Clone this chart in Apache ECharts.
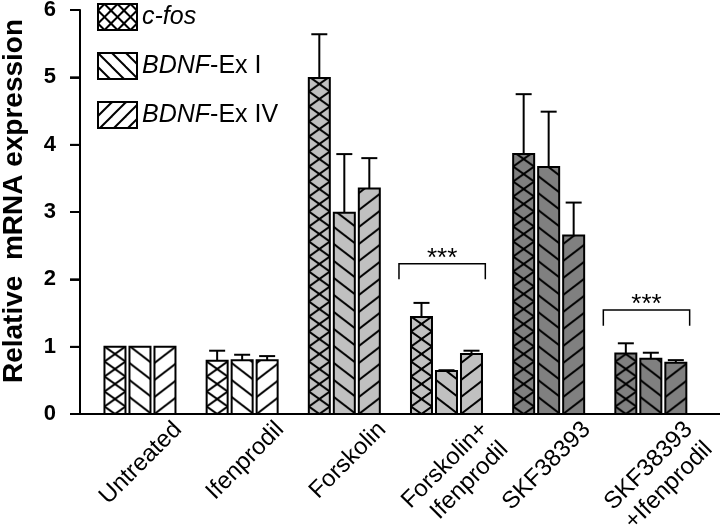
<!DOCTYPE html>
<html><head><meta charset="utf-8">
<script src="https://cdn.jsdelivr.net/npm/echarts@6/dist/echarts.min.js"></script>
<style>html,body{margin:0;padding:0;background:#fff}#c{width:720px;height:526px}</style>
</head><body><div id="c"></div>
<script>
// ---------- data ----------
const categories = ['Untreated', 'Ifenprodil', 'Forskolin', 'Forskolin+\nIfenprodil', 'SKF38393', 'SKF38393\n+Ifenprodil'];
const seriesNames = ['c-fos', 'BDNF-Ex I', 'BDNF-Ex IV'];
const cfos      = [1.00, 0.79, 4.99, 1.44, 3.86, 0.90];
const cfosErr   = [0.00, 0.15, 0.65, 0.21, 0.89, 0.15];
const exI       = [1.00, 0.80, 2.99, 0.64, 3.67, 0.82];
const exIErr    = [0.00, 0.08, 0.87, 0.01, 0.82, 0.09];
const exIV      = [1.00, 0.80, 3.35, 0.89, 2.65, 0.76];
const exIVErr   = [0.00, 0.06, 0.45, 0.05, 0.49, 0.04];
const yTicks    = [0, 1, 2, 3, 4, 5, 6];
// significance brackets: category, bracket top value, bracket end value, stars value
const sigCats   = [3, 5];
const sigTop    = [2.23, 1.545];
const sigEnd    = [2.00, 1.31];
const sigStars  = [2.30, 1.62];
const sigText   = ['***', '***'];

// ---------- styles / layout ----------
const FONT = "'Liberation Sans', Arial, Helvetica, sans-serif";
const catFill = ['#ffffff', '#ffffff', '#c0c0c0', '#c0c0c0', '#808080', '#808080'];
const kinds = ['cross', 'back', 'fwd'];
const BAR_W = 21, BAR_PITCH = 25, CAP = 16, TICK_LEN = 10;
const X_MIN = -0.587, X_MAX = 5.677; // horizontal extent of plot in category-index units
const PLOT_LEFT = 80, PLOT_TOP = 10, PLOT_H = 404;

function makePattern(kind, bg, W, H, lw) {
  const c = document.createElement('canvas');
  c.width = W; c.height = H;
  const g = c.getContext('2d');
  g.fillStyle = bg; g.fillRect(0, 0, W, H);
  g.strokeStyle = '#000'; g.lineWidth = lw;
  const line = (x1, y1, x2, y2) => { g.beginPath(); g.moveTo(x1, y1); g.lineTo(x2, y2); g.stroke(); };
  const b0 = kind === 'cross' ? H / 2 : 0;
  for (let k = -3; k <= 3; k++) {
    const b = b0 + k * H;
    if (kind === 'cross' || kind === 'back') line(-W, b - H, 2 * W, b + 2 * H);
    if (kind === 'cross' || kind === 'fwd') line(-W, b + H, 2 * W, b - 2 * H);
  }
  return c;
}
const tile = { cross: [21, 15], back: [22, 17], fwd: [22, 17] };
const barPatterns = {};
kinds.forEach(k => {
  barPatterns[k] = catFill.map(col => makePattern(k, col, tile[k][0], tile[k][1], 2));
});
const legendPatterns = {
  cross: makePattern('cross', '#fff', 13, 13, 2),
  back: makePattern('back', '#fff', 14, 14, 2),
  fwd: makePattern('fwd', '#fff', 14, 14, 2)
};

function barRender(si) {
  const kind = kinds[si];
  return function (params, api) {
    const i = api.value(0), v = api.value(1), e = api.value(2);
    const base = api.coord([i, 0]);
    const top = api.coord([i, v]);
    const cx = base[0] + (si - 1) * BAR_PITCH;
    const x0 = cx - BAR_W / 2;
    const children = [];
    if (e > 0) {
      const et = api.coord([i, v + e]);
      children.push({ type: 'line', shape: { x1: cx, y1: top[1], x2: cx, y2: et[1] }, style: { stroke: '#000', lineWidth: 2 } });
      children.push({ type: 'line', shape: { x1: cx - CAP / 2, y1: et[1], x2: cx + CAP / 2, y2: et[1] }, style: { stroke: '#000', lineWidth: 2 } });
    }
    children.push({
      type: 'rect',
      shape: { x: x0, y: top[1], width: BAR_W, height: base[1] - top[1] },
      style: { fill: { image: barPatterns[kind][i], repeat: 'repeat', x: x0, y: base[1] }, stroke: '#000', lineWidth: 2 }
    });
    return { type: 'group', children: children };
  };
}

const values = [cfos, exI, exIV];
const errs = [cfosErr, exIErr, exIVErr];
const series = seriesNames.map((name, si) => ({
  name: name,
  type: 'custom',
  xAxisIndex: 0, yAxisIndex: 0,
  renderItem: barRender(si),
  itemStyle: { color: { image: legendPatterns[kinds[si]], repeat: 'repeat' }, borderColor: '#000', borderWidth: 2 },
  encode: { x: 0, y: 1 },
  data: categories.map((c, i) => [i, values[si][i], errs[si][i]]),
  z: 2
}));

// significance brackets
series.push({
  type: 'custom',
  name: 'sig',
  xAxisIndex: 0, yAxisIndex: 0,
  encode: { x: 0, y: 1 },
  data: sigCats.map((c, j) => [c, sigTop[j], sigEnd[j], sigStars[j]]),
  renderItem: function (params, api) {
    const c = api.value(0);
    const p = api.coord([c, api.value(1)]);
    const pe = api.coord([c, api.value(2)]);
    const ps = api.coord([c, api.value(3)]);
    const bw = api.size([1, 0])[0];
    const xl = p[0] - 0.465 * bw, xr = p[0] + 0.38 * bw;
    return {
      type: 'group',
      children: [
        { type: 'polyline', shape: { points: [[xl, pe[1]], [xl, p[1]], [xr, p[1]], [xr, pe[1]]] }, style: { stroke: '#000', lineWidth: 1.5, fill: null } },
        { type: 'text', x: (xl + xr) / 2, y: ps[1], style: { text: sigText[params.dataIndex], fontSize: 26, fontFamily: FONT, fill: '#000', align: 'center', verticalAlign: 'middle', textAlign: 'center', textVerticalAlign: 'middle' } }
      ]
    };
  },
  z: 3
});

// value-axis line + ticks drawn through the axis scale (backup for the native axis line)
series.push({
  type: 'custom',
  name: 'yaxis',
  xAxisIndex: 0, yAxisIndex: 0,
  clip: false,
  silent: true,
  encode: { x: 0, y: 1 },
  data: yTicks.map(t => [X_MIN, t]),
  renderItem: function (params, api) {
    const p = api.coord([api.value(0), api.value(1)]);
    const children = [
      { type: 'line', shape: { x1: p[0] - TICK_LEN, y1: p[1], x2: p[0], y2: p[1] }, style: { stroke: '#000', lineWidth: 1.5 } }
    ];
    if (params.dataIndex === 0) {
      const pTop = api.coord([api.value(0), yTicks[yTicks.length - 1]]);
      children.push({ type: 'line', shape: { x1: p[0], y1: p[1], x2: pTop[0], y2: pTop[1] }, style: { stroke: '#000', lineWidth: 2 } });
    }
    return { type: 'group', children: children };
  },
  zlevel: 1,
  z: 50
});

const gridBase = { top: PLOT_TOP, height: PLOT_H, outerBoundsMode: 'none', containLabel: false };
const chart = echarts.init(document.getElementById('c'), null, { renderer: 'canvas' });
chart.setOption({
  animation: false,
  backgroundColor: '#fff',
  grid: [
    Object.assign({ left: PLOT_LEFT, right: 0 }, gridBase),
    Object.assign({ left: 117, width: 613 }, gridBase),
    // thin helper grid whose black background forms the vertical axis line
    Object.assign({ left: PLOT_LEFT - 1, width: 2, show: true, backgroundColor: '#000', borderWidth: 0, zlevel: 2, z: 50 }, gridBase),
    // helper grid whose split lines form the outward tick marks
    Object.assign({ left: PLOT_LEFT - TICK_LEN, width: TICK_LEN, zlevel: 2, z: 50 }, gridBase)
  ],
  legend: {
    data: seriesNames,
    orient: 'vertical',
    left: 92, top: -2,
    itemWidth: 39, itemHeight: 26, itemGap: 21,
    icon: 'rect',
    selectedMode: false,
    itemStyle: { borderColor: '#000', borderWidth: 2 },
    formatter: function (name) {
      if (name === 'c-fos') return '{i|c-fos}';
      return '{i|BDNF}{n|' + name.slice(4) + '}';
    },
    textStyle: {
      color: '#000', fontFamily: FONT, fontSize: 25,
      rich: {
        i: { fontStyle: 'italic', fontSize: 25, fontFamily: FONT, color: '#000' },
        n: { fontSize: 25, fontFamily: FONT, color: '#000' }
      }
    }
  },
  xAxis: [
    {
      type: 'value', gridIndex: 0, min: X_MIN, max: X_MAX,
      axisLine: { show: true, onZero: false, lineStyle: { color: '#000', width: 2 } },
      axisTick: { show: false }, axisLabel: { show: false }, splitLine: { show: false }
    },
    {
      type: 'category', gridIndex: 1, data: categories,
      axisLine: { show: false }, axisTick: { show: false }, splitLine: { show: false },
      axisLabel: {
        show: true, interval: 0, rotate: 45, margin: 2, align: 'right', verticalAlign: 'top',
        color: '#000', fontFamily: FONT, fontSize: 24, lineHeight: 28, hideOverlap: false
      }
    },
    { type: 'value', gridIndex: 2, min: 0, max: 1, show: false },
    { type: 'value', gridIndex: 3, min: 0, max: 1, show: false }
  ],
  yAxis: [
    {
      type: 'value', gridIndex: 0, min: 0, max: 6, interval: 1,
      axisLine: { show: true, onZero: false, lineStyle: { color: '#000', width: 2 } },
      axisTick: { show: true, inside: false, length: TICK_LEN, lineStyle: { color: '#000', width: 1.5 } },
      axisLabel: {
        show: true, margin: 24, color: '#000', fontFamily: FONT, fontSize: 22, fontWeight: 'bold',
        formatter: function (v) { return yTicks.indexOf(v) >= 0 ? String(v) : ''; }
      },
      splitLine: { show: false },
      name: 'Relative  mRNA expression',
      nameLocation: 'middle',
      nameGap: 52,
      nameTextStyle: { color: '#000', fontFamily: FONT, fontSize: 28, fontWeight: 'bold', padding: [0, 0, 0, 22] }
    },
    { type: 'value', gridIndex: 1, min: 0, max: 6, show: false },
    { type: 'value', gridIndex: 2, min: 0, max: 6, show: false },
    {
      type: 'value', gridIndex: 3, min: 0, max: 6, interval: 1, zlevel: 2, z: 50,
      axisLine: { show: false }, axisTick: { show: false }, axisLabel: { show: false },
      splitLine: { show: true, lineStyle: { color: '#000', width: 1.5, type: 'solid' } }
    }
  ],
  series: series
});

// one more backup: graphic lines positioned via the chart's own scale conversion
try {
  const tickPx = yTicks.map(t => {
    let p = chart.convertToPixel({ xAxisIndex: 0, yAxisIndex: 0 }, [X_MIN, t]);
    if (!p || !isFinite(p[0]) || !isFinite(p[1])) {
      p = [chart.convertToPixel({ xAxisIndex: 0 }, X_MIN), chart.convertToPixel({ yAxisIndex: 0 }, t)];
    }
    return p;
  }).filter(p => p && isFinite(p[0]) && isFinite(p[1]));
  if (tickPx.length === yTicks.length) {
    const axisEls = tickPx.map(p => ({
      type: 'line', silent: true, zlevel: 3, z: 100,
      shape: { x1: p[0] - TICK_LEN, y1: p[1], x2: p[0], y2: p[1] },
      style: { stroke: '#000', lineWidth: 1.5 }
    }));
    axisEls.push({
      type: 'line', silent: true, zlevel: 3, z: 100,
      shape: { x1: tickPx[0][0], y1: tickPx[0][1], x2: tickPx[tickPx.length - 1][0], y2: tickPx[tickPx.length - 1][1] },
      style: { stroke: '#000', lineWidth: 2 }
    });
    chart.setOption({ graphic: { elements: axisEls } });
  }
} catch (err) { /* ignore */ }
</script>
</body></html>
